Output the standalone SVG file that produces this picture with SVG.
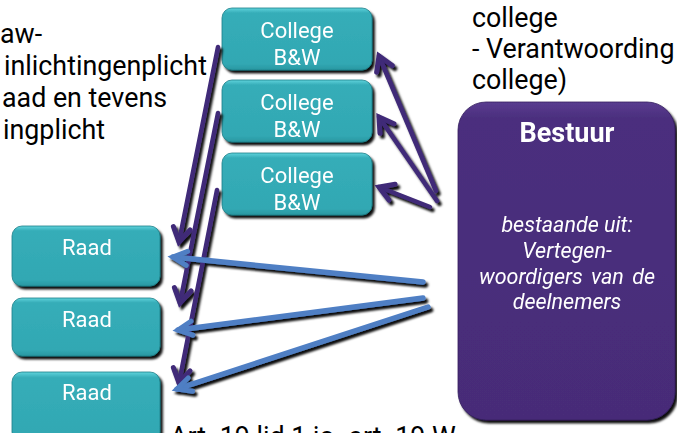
<svg xmlns="http://www.w3.org/2000/svg" width="677" height="433" viewBox="0 0 677 433">
<defs>
<style>
.lbl{font-family:Roboto,"Liberation Sans",sans-serif;fill:#000;font-size:26.8px}
.node{fill:url(#teal);stroke:#1d7f88;stroke-width:0.8}
.nt{font-family:Roboto,"Liberation Sans",sans-serif;fill:#fff;font-size:22px;text-anchor:middle}
.bt{font-family:Roboto,"Liberation Sans",sans-serif;fill:#fff;text-anchor:middle}
.it{font-size:21.5px;font-style:italic}
.pl{stroke:#3f2a78;stroke-width:4.5;fill:none;stroke-linecap:round}
.bl{stroke:#4f7fc4;stroke-width:5.5;fill:none;stroke-linecap:round}
</style>
<linearGradient id="teal" x1="0" y1="0" x2="0" y2="1">
<stop offset="0" stop-color="#5fd3dc"/>
<stop offset="0.08" stop-color="#36adb8"/>
<stop offset="0.9" stop-color="#31a8b3"/>
<stop offset="1" stop-color="#2a97a1"/>
</linearGradient>
<linearGradient id="purp" x1="0" y1="0" x2="0" y2="1">
<stop offset="0" stop-color="#5a3c90"/>
<stop offset="0.05" stop-color="#4b2f7e"/>
<stop offset="1" stop-color="#472c78"/>
</linearGradient>
<filter id="sh" x="-20%" y="-20%" width="140%" height="140%">
<feDropShadow dx="2.5" dy="3" stdDeviation="1" flood-color="#000" flood-opacity="0.95"/>
</filter>
<marker id="ap" markerUnits="userSpaceOnUse" markerWidth="24" markerHeight="24" refX="16" refY="10" orient="auto" overflow="visible">
<path d="M2,1.5 L16,10 L2,18.5" fill="none" stroke="#3f2a78" stroke-width="5" stroke-linecap="round" stroke-linejoin="miter"/>
</marker>
<marker id="ab" markerUnits="userSpaceOnUse" markerWidth="24" markerHeight="24" refX="16" refY="10" orient="auto" overflow="visible">
<path d="M2,3 L16,10 L2,17" fill="none" stroke="#4f7fc4" stroke-width="5" stroke-linecap="round" stroke-linejoin="miter"/>
</marker>
</defs>
<rect width="677" height="433" fill="#fff"/>

<g id="text-left">
<text class="lbl" x="0" y="43">aw-</text>
<text class="lbl" x="4" y="75">inlichtingenplicht</text>
<text class="lbl" x="2" y="107">aad en tevens</text>
<text class="lbl" x="3" y="139">ingplicht</text>
</g>
<g id="text-right">
<text class="lbl" x="472" y="27">college</text>
<text class="lbl" x="472" y="58">- Verantwoording</text>
<text class="lbl" x="472" y="89">college)</text>
</g>
<g id="text-bottom">
<text class="lbl" x="170" y="446">Art. 19 lid 1 jo. art. 19 W</text>
</g>

<g id="college1" filter="url(#sh)">
<rect class="node" x="222" y="8" width="150" height="62" rx="10"/>
<text class="nt" x="297" y="38">College</text>
<text class="nt" x="297" y="65">B&amp;W</text>
</g>
<g id="college2" filter="url(#sh)">
<rect class="node" x="222" y="80" width="150" height="62" rx="10"/>
<text class="nt" x="297" y="110">College</text>
<text class="nt" x="297" y="137">B&amp;W</text>
</g>
<g id="college3" filter="url(#sh)">
<rect class="node" x="222" y="153" width="150" height="62" rx="10"/>
<text class="nt" x="297" y="183">College</text>
<text class="nt" x="297" y="210">B&amp;W</text>
</g>

<g id="raad1" filter="url(#sh)">
<rect class="node" x="12" y="226" width="148" height="60" rx="10"/>
<text class="nt" x="87" y="255">Raad</text>
</g>
<g id="raad2" filter="url(#sh)">
<rect class="node" x="12" y="298" width="148" height="58" rx="10"/>
<text class="nt" x="87" y="327">Raad</text>
</g>
<g id="raad3" filter="url(#sh)">
<rect class="node" x="12" y="372" width="148" height="70" rx="10"/>
<text class="nt" x="87" y="400">Raad</text>
</g>

<g id="bestuur" filter="url(#sh)">
<rect x="458" y="102" width="217" height="318" rx="28" fill="url(#purp)" stroke="#35205e" stroke-width="0.8"/>
<text class="bt" x="567" y="142" font-size="27" font-weight="bold">Bestuur</text>
<text class="bt it" x="567" y="232">bestaande uit:</text>
<text class="bt it" x="567" y="258">Vertegen-</text>
<text class="bt it" x="567" y="284" word-spacing="3">woordigers van de</text>
<text class="bt it" x="567" y="309">deelnemers</text>
</g>

<g id="connectors" filter="url(#sh)">
<line class="pl" x1="436" y1="191" x2="379" y2="56" marker-end="url(#ap)"/>
<line class="pl" x1="437" y1="201" x2="379" y2="117" marker-end="url(#ap)"/>
<line class="pl" x1="430" y1="207" x2="379" y2="187" marker-end="url(#ap)"/>
<line class="pl" x1="218" y1="47" x2="179" y2="242" marker-end="url(#ap)"/>
<line class="pl" x1="218" y1="113" x2="180" y2="303" marker-end="url(#ap)"/>
<line class="pl" x1="217" y1="190" x2="179" y2="383" marker-end="url(#ap)"/>
<line class="bl" x1="423" y1="282" x2="173" y2="257" marker-end="url(#ab)"/>
<line class="bl" x1="423" y1="298" x2="178" y2="330" marker-end="url(#ab)"/>
<line class="bl" x1="428" y1="307" x2="177" y2="389" marker-end="url(#ab)"/>
</g>
</svg>
